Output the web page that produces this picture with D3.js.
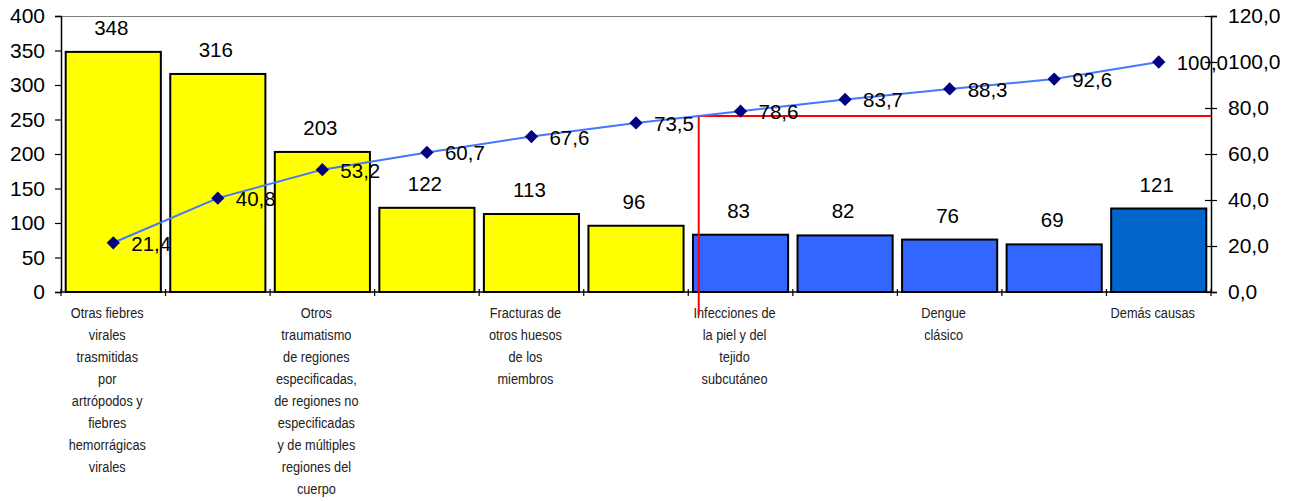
<!DOCTYPE html>
<html>
<head>
<meta charset="utf-8">
<script src="https://cdn.jsdelivr.net/npm/d3@7"></script>
<style>
  html, body { margin: 0; padding: 0; background: #fff; }
  svg { display: block; }
</style>
</head>
<body>
<svg id="chart" width="1302" height="501"></svg>
<script>
// Causes of consultation (Pareto): counts and cumulative percentage
const categoryLines = [
  ["Otras fiebres", "virales", "trasmitidas", "por", "artrópodos y", "fiebres", "hemorrágicas", "virales"],
  [],
  ["Otros", "traumatismo", "de regiones", "especificadas,", "de regiones no", "especificadas", "y de múltiples", "regiones del", "cuerpo"],
  [],
  ["Fracturas de", "otros huesos", "de los", "miembros"],
  [],
  ["Infecciones de", "la piel y del", "tejido", "subcutáneo"],
  [],
  ["Dengue", "clásico"],
  [],
  ["Demás causas"]
];
const counts = [348, 316, 203, 122, 113, 96, 83, 82, 76, 69, 121];
const cumulative = [21.4, 40.8, 53.2, 60.7, 67.6, 73.5, 78.6, 83.7, 88.3, 92.6, 100.0];
const groups = ["vital", "vital", "vital", "vital", "vital", "vital", "useful", "useful", "useful", "useful", "rest"];
const leftTicks = [0, 50, 100, 150, 200, 250, 300, 350, 400];
const rightTicks = [0, 20, 40, 60, 80, 100, 120];
// cut-off marker: position in category units and cumulative percentage
const cutoffIndex = 6.1;
const cutoffPercent = 76.5;

const svg = d3.select("#chart");
const plotLeft = 61, plotRight = 1211, plotTop = 16, plotBottom = 292;
const idx = d3.range(counts.length);

const x = d3.scaleBand().domain(idx).range([plotLeft, plotRight]).paddingInner(0.09).paddingOuter(0.045);
const xPos = d3.scaleLinear().domain([0, counts.length]).range([plotLeft, plotRight]);
const yL = d3.scaleLinear().domain([0, 400]).range([plotBottom, plotTop]);
const yR = d3.scaleLinear().domain([0, 120]).range([plotBottom, plotTop]);
const color = d3.scaleOrdinal().domain(["vital", "useful", "rest"]).range(["#FFFF00", "#3366FF", "#0066CC"]);

const es = d3.formatLocale({ decimal: ",", thousands: ".", grouping: [3], currency: ["", ""] });
const f1 = es.format(".1f");

const numFont = "'Liberation Sans', Arial, sans-serif";
const center = i => x(i) + x.bandwidth() / 2;

// plot frame top
svg.append("line")
  .attr("x1", plotLeft).attr("x2", plotRight).attr("y1", plotTop + 0.5).attr("y2", plotTop + 0.5)
  .attr("stroke", "#808080").attr("stroke-width", 1);

// bars
svg.append("g").selectAll("rect").data(idx).join("rect")
  .attr("x", i => x(i))
  .attr("y", i => yL(counts[i]))
  .attr("width", x.bandwidth())
  .attr("height", i => yL(0) - yL(counts[i]))
  .attr("fill", i => color(groups[i]))
  .attr("stroke", "#000").attr("stroke-width", 2);

// bar value labels
svg.append("g").selectAll("text").data(idx).join("text")
  .attr("x", i => center(i) - 2)
  .attr("y", i => yL(counts[i]) - 17)
  .attr("text-anchor", "middle")
  .attr("font-family", numFont).attr("font-size", 20.5)
  .text(i => counts[i]);

// left axis
const axL = svg.append("g").attr("transform", `translate(${plotLeft},0)`)
  .call(d3.axisLeft(yL).tickValues(leftTicks).tickSize(6).tickPadding(10).tickFormat(d3.format("d")));
axL.select(".domain").attr("stroke", "#000").attr("stroke-width", 1.5);
axL.selectAll(".tick line").attr("stroke", "#000").attr("stroke-width", 1.2);
axL.selectAll(".tick text").attr("font-family", numFont).attr("font-size", 21).attr("fill", "#000");

// right axis
const axR = svg.append("g").attr("transform", `translate(${plotRight},0)`)
  .call(d3.axisRight(yR).tickValues(rightTicks).tickSize(6).tickPadding(11).tickFormat(f1));
axR.select(".domain").attr("stroke", "#000").attr("stroke-width", 1.5);
axR.selectAll(".tick line").attr("x1", -6).attr("stroke", "#000").attr("stroke-width", 1.2);
axR.selectAll(".tick text").attr("font-family", numFont).attr("font-size", 21).attr("fill", "#000");

// bottom axis with ticks between categories
svg.append("line")
  .attr("x1", plotLeft).attr("x2", plotRight).attr("y1", plotBottom).attr("y2", plotBottom)
  .attr("stroke", "#000").attr("stroke-width", 1.5);
svg.append("g").selectAll("line").data(d3.range(counts.length + 1)).join("line")
  .attr("x1", k => xPos(k)).attr("x2", k => xPos(k))
  .attr("y1", plotBottom - 3).attr("y2", plotBottom + 4)
  .attr("stroke", "#000").attr("stroke-width", 1.2);

// category labels (condensed sans)
const catG = svg.append("g")
  .attr("font-family", "'Liberation Sans Narrow', 'Arial Narrow', 'Liberation Sans', sans-serif")
  .attr("font-size", 15).attr("fill", "#222");
idx.forEach(i => {
  categoryLines[i].forEach((ln, j) => {
    catG.append("text")
      .attr("transform", `translate(${center(i) - 6},${plotBottom + 26 + j * 22}) scale(0.85,1)`)
      .attr("text-anchor", "middle")
      .text(ln);
  });
});

// cut-off marker
svg.append("path")
  .attr("d", d3.line()([
    [xPos(cutoffIndex), plotBottom + 23],
    [xPos(cutoffIndex), yR(cutoffPercent)],
    [plotRight, yR(cutoffPercent)]
  ]))
  .attr("fill", "none").attr("stroke", "#FF0000").attr("stroke-width", 2);

// cumulative line
svg.append("path")
  .datum(idx)
  .attr("d", d3.line().x(i => center(i)).y(i => yR(cumulative[i])))
  .attr("fill", "none").attr("stroke", "#4477FF").attr("stroke-width", 2);

svg.append("g").selectAll("path").data(idx).join("path")
  .attr("d", d3.symbol().type(d3.symbolSquare).size(88))
  .attr("transform", i => `translate(${center(i)},${yR(cumulative[i])}) rotate(45)`)
  .attr("fill", "#000080");

svg.append("g").selectAll("text").data(idx).join("text")
  .attr("x", i => center(i) + 18)
  .attr("y", i => yR(cumulative[i]) + 8)
  .attr("font-family", numFont).attr("font-size", 20.5)
  .text(i => f1(cumulative[i]));
</script>
</body>
</html>
